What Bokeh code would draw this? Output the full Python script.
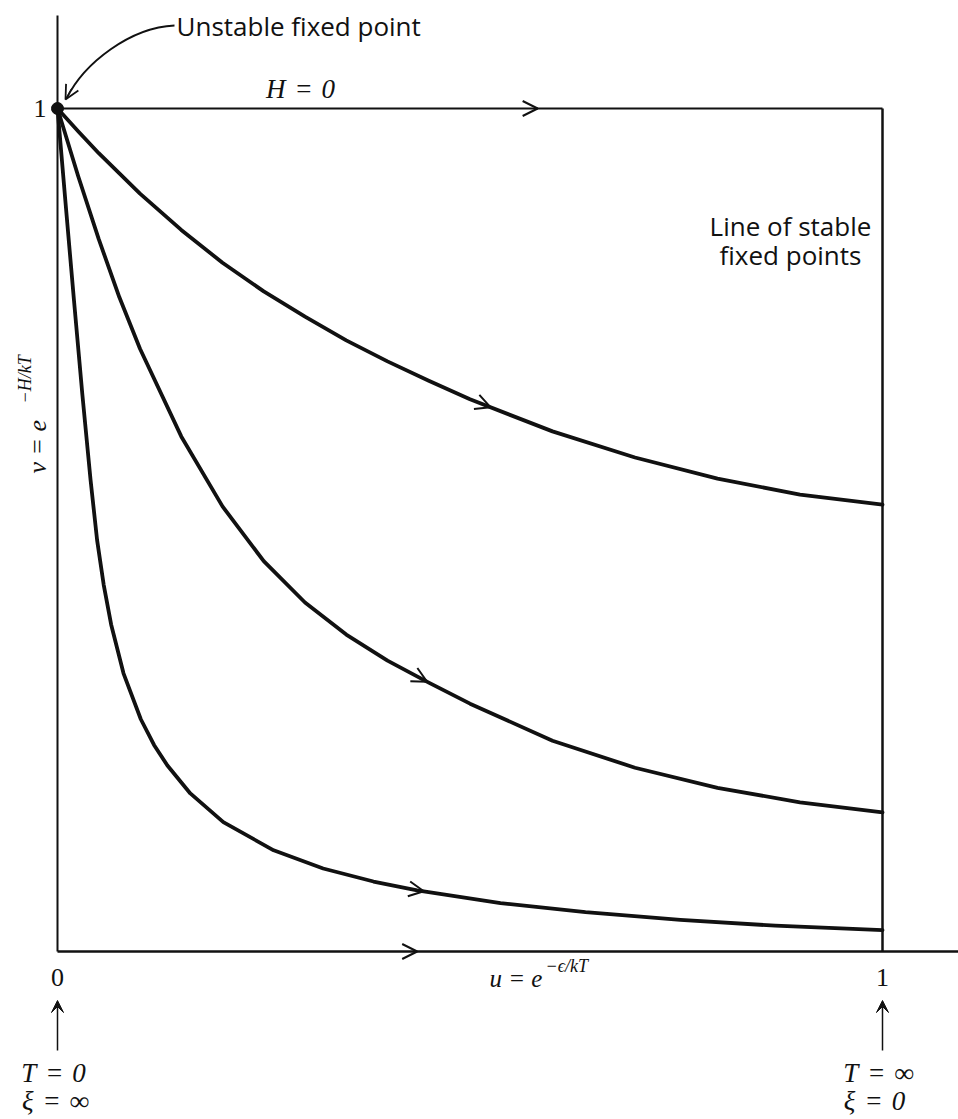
import numpy as np
from bokeh.plotting import figure
from bokeh.models import Range1d, Arrow, OpenHead, VeeHead
from bokeh.core.properties import value
from bokeh.embed import file_html
from bokeh.resources import INLINE

# ---- data (u = e^{-eps/kT}, v = e^{-H/kT}) ----
curve1_u = [0.0, 0.025, 0.05, 0.10, 0.15, 0.20, 0.25, 0.30, 0.35, 0.40, 0.45, 0.50, 0.60, 0.70, 0.80, 0.90, 1.0]
curve1_v = [1.0, 0.973, 0.947, 0.899, 0.856, 0.817, 0.783, 0.753, 0.725, 0.700, 0.677, 0.655, 0.617, 0.586, 0.561, 0.542, 0.530]

curve2_u = [0.0, 0.025, 0.05, 0.075, 0.10, 0.15, 0.20, 0.25, 0.30, 0.35, 0.40, 0.45, 0.50, 0.60, 0.70, 0.80, 0.90, 1.0]
curve2_v = [1.0, 0.920, 0.845, 0.776, 0.715, 0.611, 0.528, 0.463, 0.414, 0.376, 0.345, 0.319, 0.294, 0.250, 0.218, 0.194, 0.177, 0.165]

curve3_u = [0.0, 0.010, 0.020, 0.030, 0.040, 0.048, 0.056, 0.065, 0.080, 0.101, 0.117, 0.133, 0.161, 0.201,
            0.262, 0.322, 0.383, 0.436, 0.537, 0.640, 0.755, 0.870, 1.0]
curve3_v = [1.0, 0.885, 0.772, 0.662, 0.560, 0.488, 0.435, 0.388, 0.330, 0.2755, 0.245, 0.221, 0.1875, 0.1535,
            0.120, 0.0985, 0.083, 0.0726, 0.0575, 0.0467, 0.0375, 0.0306, 0.0254]

curves_u = [curve1_u, curve2_u, curve3_u]
curves_v = [curve1_v, curve2_v, curve3_v]
curve_arrow_u = [0.525, 0.448, 0.444]

fixed_u = [0.0]
fixed_v = [1.0]

x_tick_values = [0, 1]
x_tick_labels = ["0", "1"]
y_tick_values = [1]
y_tick_labels = ["1"]

SP = "\u2004"  # three-per-em space, as in the typeset equations

# ---- screen-to-data helpers for annotation placement ----
def X(px):
    return (px - 57) / 825.0

def Y(py):
    return (951 - py) / 843.0

W, H = 958, 1119
p = figure(width=W, height=H,
           x_range=Range1d(X(0), X(W)), y_range=Range1d(Y(H), Y(0)),
           x_axis_location=None, y_axis_location=None,
           toolbar_location=None, output_backend="svg", min_border=0)
p.xgrid.visible = False
p.ygrid.visible = False
p.outline_line_color = None
p.background_fill_color = "white"
p.border_fill_color = "white"

INK = "#111111"
SERIF = value("Liberation Serif")
SANS = value("Open Sans")

# axes and box
p.segment(x0=[0], y0=[Y(15)], x1=[0], y1=[0], line_color=INK, line_width=2)
p.segment(x0=[0], y0=[0], x1=[X(970)], y1=[0], line_color=INK, line_width=2.5)
p.segment(x0=[0], y0=[1], x1=[1], y1=[1], line_color=INK, line_width=2)
p.segment(x0=[1], y0=[0], x1=[1], y1=[1], line_color=INK, line_width=2.5)

# flow lines
for us, vs in zip(curves_u, curves_v):
    p.line(us, vs, line_color=INK, line_width=3.8, line_join="round", line_cap="round")

def add_head(us, vs, ut, size=15, lw=2.0):
    vt = float(np.interp(ut, us, vs))
    vb = float(np.interp(ut - 0.01, us, vs))
    p.add_layout(Arrow(end=OpenHead(size=size, line_width=lw, line_color=INK),
                       x_start=ut - 0.01, y_start=vb, x_end=ut, y_end=vt,
                       line_color=INK, line_width=1))

for us, vs, ut in zip(curves_u, curves_v, curve_arrow_u):
    add_head(us, vs, ut)
add_head([0, 1], [1, 1], 0.582)
add_head([0, 1], [0, 0], 0.436)

# unstable fixed point
p.scatter(fixed_u, fixed_v, size=12, color=INK)

# callout
p.bezier(x0=[X(174)], y0=[Y(25)], x1=[X(66)], y1=[Y(98)],
         cx0=[X(130)], cy0=[Y(27)], cx1=[X(84)], cy1=[Y(62)],
         line_color=INK, line_width=2)
p.add_layout(Arrow(end=OpenHead(size=14, line_width=1.8, line_color=INK),
                   x_start=X(71), y_start=Y(88), x_end=X(65), y_end=Y(99),
                   line_color=INK, line_width=1))
p.text(x=[X(176)], y=[Y(25)], text=["Unstable fixed point"], text_font=SANS,
       text_font_size="26px", text_align="left", text_baseline="middle", text_color=INK)

# H = 0
p.text(x=[X(300)], y=[Y(88)], text=[f"H{SP}={SP}0"], text_font=SERIF, text_font_style="italic",
       text_font_size="27px", text_align="center", text_baseline="middle", text_color=INK)

# Line of stable fixed points
p.text(x=[X(790), X(790)], y=[Y(225), Y(254)], text=["Line of stable", "fixed points"],
       text_font=SANS, text_font_size="26px", text_align="center", text_baseline="middle",
       text_color=INK)

# tick labels
p.text(x=x_tick_values, y=[Y(977)] * len(x_tick_values), text=x_tick_labels, text_font=SERIF,
       text_font_size="26px", text_align="center", text_baseline="middle", text_color=INK)
p.text(x=[X(46)], y=[y_tick_values[0]], text=y_tick_labels, text_font=SERIF,
       text_font_size="26px", text_align="right", text_baseline="middle", text_color=INK)

# x label  u = e^{-eps/kT}
p.text(x=[X(489)], y=[Y(978)], text=["u = e"], text_font=SERIF, text_font_style="italic",
       text_font_size="25px", text_align="left", text_baseline="middle", text_color=INK)
p.text(x=[X(545)], y=[Y(965)], text=["\u2212\u03f5/kT"], text_font=SERIF, text_font_style="italic",
       text_font_size="18px", text_align="left", text_baseline="middle", text_color=INK)

# y label  v = e^{-H/kT}
p.text(x=[X(37)], y=[Y(473)], text=["v = e"], text_font=SERIF, text_font_style="italic",
       text_font_size="26px", text_align="left", text_baseline="middle", angle=np.pi / 2,
       text_color=INK)
p.text(x=[X(24)], y=[Y(403)], text=["\u2212H/kT"], text_font=SERIF, text_font_style="italic",
       text_font_size="18px", text_align="left", text_baseline="middle", angle=np.pi / 2,
       text_color=INK)

# limit arrows and labels
for ux in x_tick_values:
    p.add_layout(Arrow(end=VeeHead(size=12, fill_color=INK, line_color=INK, line_width=1),
                       x_start=ux, y_start=Y(1050), x_end=ux, y_end=Y(1000),
                       line_color=INK, line_width=1.5))

p.text(x=[X(53), X(878)], y=[Y(1072), Y(1072)], text=[f"T{SP}={SP}0", f"T{SP}={SP}\u221e"],
       text_font=SERIF, text_font_style="italic", text_font_size="27px", text_align="center",
       text_baseline="middle", text_color=INK)
p.text(x=[X(55), X(874)], y=[Y(1100), Y(1100)], text=[f"\u03be{SP}={SP}\u221e", f"\u03be{SP}={SP}0"],
       text_font=SERIF, text_font_style="italic", text_font_size="27px", text_align="center",
       text_baseline="middle", text_color=INK)

open("out.html", "w").write(file_html(p, INLINE))
